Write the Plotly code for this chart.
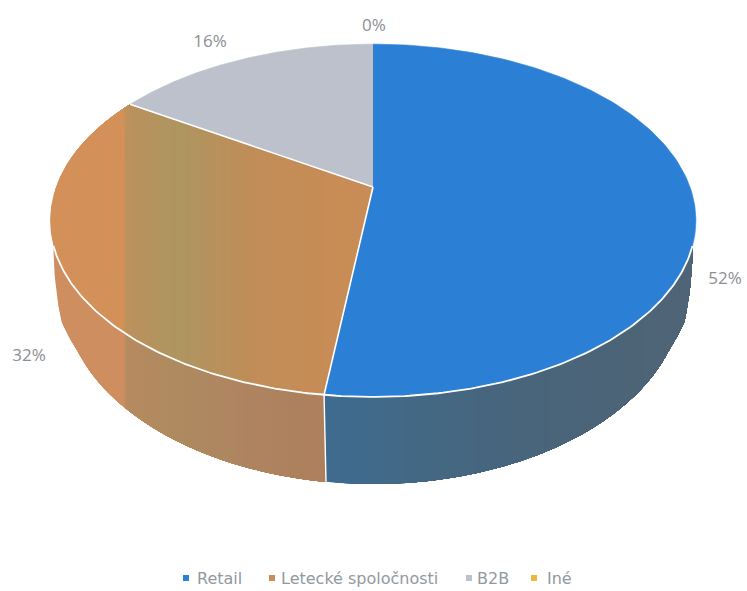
import numpy as np
import plotly.graph_objects as go

categories = ["Retail", "Letecké spoločnosti", "B2B", "Iné"]
values = [52, 32, 16, 0]
top_colors = ["#2b80d5", "#c98e58", "#bcc1cb", "#edb63f"]
wall_colors = ["#44657f", "#b08560", "#9a9da5", "#b88e30"]
label_xy = [(725, 280), (29, 357), (210, 43), (374, 27)]
legend_marker_x = [186, 272, 469, 534]
legend_text_x = [197, 281, 477, 547]
legend_y = 580

top_shade_x = [40, 124, 126, 180, 250, 330, 380]
top_shade = ["#d39159", "#d39159", "#bb915c", "#ae9560", "#c08d58", "#c88c56", "#c88c56"]
wall_shade_x = [40, 124, 126, 180, 250, 330]
wall_shade = ["#cf8e5f", "#cf8e5f", "#b68a60", "#ae8a60", "#ae8460", "#ae7f5c"]
blue_shade_x = [320, 420, 560, 700]
blue_shade = ["#3f6b8f", "#436884", "#4a6479", "#506476"]

CX, CY, A, B, K, D = 373.0, 187.0, 317.0, 170.0, 0.19, 70.6
WALL_START, WALL_END = 109.0, 251.0
W, H = 747, 591
STRIP = 5


def rim(deg):
    a = np.radians(np.asarray(deg, dtype=float))
    u, v = np.sin(a), np.cos(a)
    q = 1 + K * v
    return CX + A * u / q, CY - B * v / q


def base(deg):
    deg = np.asarray(deg, dtype=float)
    a = np.radians(deg)
    v = np.cos(a)
    x, y = rim(deg)
    edge = np.clip(1 - np.minimum(deg - WALL_START, WALL_END - deg) / 8.0, 0, 1)
    narrow = 0.96 + 0.015 * edge
    return CX + narrow * (x - CX), y + D / (1 + K * v)


def clip(xs, ys, lo, hi):
    pts = list(zip(xs, ys))
    for edge, keep in ((lo, lambda p: p[0] >= lo), (hi, lambda p: p[0] <= hi)):
        out = []
        for i, p in enumerate(pts):
            q = pts[i - 1]
            if keep(p) != keep(q):
                t = (edge - q[0]) / (p[0] - q[0])
                out.append((edge, q[1] + t * (p[1] - q[1])))
            if keep(p):
                out.append(p)
        pts = out
        if not pts:
            return [], []
    return [p[0] for p in pts], [p[1] for p in pts]


fig = go.Figure()


def poly(xs, ys, color, lw=0.6):
    fig.add_trace(go.Scatter(
        x=list(xs), y=list(ys), mode="lines", fill="toself", fillcolor=color,
        line=dict(color=color, width=lw), hoverinfo="skip", showlegend=False,
    ))


def shade_at(x, anchor_x, anchor_hex):
    rgb = np.array([[int(h[i:i + 2], 16) for i in (1, 3, 5)] for h in anchor_hex], dtype=float)
    c = [int(round(np.interp(x, anchor_x, rgb[:, k]))) for k in range(3)]
    return "#%02x%02x%02x" % tuple(c)


def shaded(xs, ys, anchor_x, anchor_hex):
    # painted left to right, each strip running to the far edge, so no seams show
    lo, hi = min(xs), max(xs)
    edges = np.unique(np.r_[np.arange(lo, hi, STRIP), hi, [a for a in anchor_x if lo < a < hi]])
    for l, r in zip(edges[:-1], edges[1:]):
        cx, cy = clip(xs, ys, l, hi)
        if cx:
            poly(cx, cy, shade_at((l + r) / 2, anchor_x, anchor_hex), lw=0)


def line(xs, ys, width=1.6, color="#ffffff"):
    fig.add_trace(go.Scatter(
        x=list(xs), y=list(ys), mode="lines", line=dict(color=color, width=width),
        hoverinfo="skip", showlegend=False,
    ))


def wall_outline(s, e):
    t = np.linspace(s, e, 120)
    rx, ry = rim(t)
    bx, by = base(t)
    f = np.linspace(0.08, 0.92, 10)
    xs, ys = list(rx), list(ry)
    if e >= WALL_END:   # curved silhouette from rim down to the base ring
        xs += list(rx[-1] + (bx[-1] - rx[-1]) * f ** 2)
        ys += list(ry[-1] + (by[-1] - ry[-1]) * f)
    xs += list(bx[::-1])
    ys += list(by[::-1])
    if s <= WALL_START:
        xs += list(rx[0] + (bx[0] - rx[0]) * f[::-1] ** 2)
        ys += list(ry[0] + (by[0] - ry[0]) * f[::-1])
    return np.array(xs), np.array(ys)


total = sum(values)
stops = np.cumsum([0] + values) / total * 360.0

# side walls
for i, cat in enumerate(categories):
    s, e = max(stops[i], WALL_START), min(stops[i + 1], WALL_END)
    if e <= s:
        continue
    xs, ys = wall_outline(s, e)
    if i == 0:
        shaded(xs, ys, blue_shade_x, blue_shade)
    elif i == 1:
        shaded(xs, ys, wall_shade_x, wall_shade)
    else:
        poly(xs, ys, wall_colors[i])

# top faces
for i, cat in enumerate(categories):
    if values[i] == 0:
        continue
    t = np.linspace(stops[i], stops[i + 1], 160)
    rx, ry = rim(t)
    xs = np.r_[CX, rx]
    ys = np.r_[CY, ry]
    if i == 1:
        shaded(xs, ys, top_shade_x, top_shade)
    else:
        poly(xs, ys, top_colors[i])

# white rim and slice separators
t = np.linspace(WALL_START, WALL_END, 200)
rx, ry = rim(t)
line(rx, ry, 1.8)
for s in stops[1:3]:
    x1, y1 = rim(s)
    line([CX, x1], [CY, y1], 1.6)
    if WALL_START < s < WALL_END:
        x2, y2 = base(s)
        line([x1, x2], [y1, y2], 1.4)

# value labels
fig.add_trace(go.Scatter(
    x=[p[0] for p in label_xy], y=[p[1] for p in label_xy],
    mode="text", text=[f"{v}%" for v in values], textposition="middle center",
    textfont=dict(family="Open Sans", size=17, color="#8b8e94"),
    hoverinfo="skip", showlegend=False,
))

# legend row
fig.add_trace(go.Scatter(
    x=legend_marker_x, y=[legend_y - 2] * len(categories), mode="markers",
    marker=dict(symbol="square", size=6, color=top_colors),
    hoverinfo="skip", showlegend=False,
))
fig.add_trace(go.Scatter(
    x=legend_text_x, y=[legend_y] * len(categories), mode="text", text=categories,
    textposition="middle right",
    textfont=dict(family="DejaVu Sans", size=16, color="#9398a0"),
    hoverinfo="skip", showlegend=False,
))

fig.update_layout(
    width=W, height=H, margin=dict(l=0, r=0, t=0, b=0, autoexpand=False),
    paper_bgcolor="#ffffff", plot_bgcolor="#ffffff", showlegend=False,
    xaxis=dict(range=[0, W], visible=False, fixedrange=True),
    yaxis=dict(range=[H, 0], visible=False, fixedrange=True),
)

fig.write_html("out.html", config={"displayModeBar": False},
               post_script="document.body.style.margin='0';")
